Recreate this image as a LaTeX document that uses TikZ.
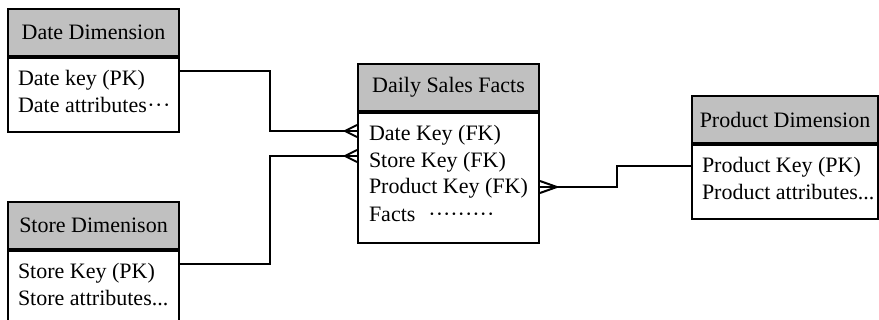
\documentclass[tikz,border=0pt]{standalone}
\usepackage{fontspec}
\setmainfont{Liberation Serif}
\usetikzlibrary{positioning}
\definecolor{hgray}{RGB}{192,192,192}

\tikzset{
  crow/.pic={\draw (0,-6) -- (-12,0) -- (0,6);}
}

\begin{document}
\begin{tikzpicture}[x=1pt, y=-1pt, line width=2pt,
    every node/.style={font=\fontsize{22}{26}\selectfont},
    head/.style={draw, fill=hgray, inner sep=0pt, minimum height=47pt, anchor=north west},
    body/.style={draw, inner sep=0pt, anchor=north west},
    row/.style={anchor=base west, inner sep=0pt}]
  \useasboundingbox (0,0) rectangle (879,320);

  % Date Dimension
  \node [head, minimum width=171pt] (dateH) at (7,8) {Date Dimension};
  \node [body, minimum width=171pt, minimum height=74pt] (dateB) at (dateH.south west) {};
  \node [row] (dateR1) at ([shift={(10,29)}]dateB.north west) {Date key (PK)};
  \node [row] (dateR2) at ([shift={(0,26.5)}]dateR1.base west) {Date attributes\kern0.5pt·\kern0.5pt·\kern0.5pt·};

  % Store Dimension
  \node [head, minimum width=171pt] (storeH) at (7,201) {Store Dimenison};
  \node [body, minimum width=171pt, minimum height=74pt] (storeB) at (storeH.south west) {};
  \node [row] (storeR1) at ([shift={(10,29)}]storeB.north west) {Store Key (PK)};
  \node [row] (storeR2) at ([shift={(0,26.5)}]storeR1.base west) {Store attributes...};

  % Daily Sales Facts
  \node [head, minimum width=181pt] (factsH) at (357,63) {Daily Sales Facts};
  \node [body, minimum width=181pt, minimum height=130pt] (factsB) at (factsH.south west) {};
  \node [row] (factsR1) at ([shift={(11,29)}]factsB.north west) {Date Key (FK)};
  \node [row] (factsR2) at ([shift={(0,26.5)}]factsR1.base west) {Store Key (FK)};
  \node [row] (factsR3) at ([shift={(0,26.5)}]factsR2.base west) {Product Key (FK)};
  \node [row] (factsR4) at ([shift={(0,27.5)}]factsR3.base west) {Facts\hspace{13pt}·········};

  % Product Dimension
  \node [head, minimum width=186pt] (prodH) at (691,95) {Product Dimension};
  \node [body, minimum width=186pt, minimum height=74pt] (prodB) at (prodH.south west) {};
  \node [row] (prodR1) at ([shift={(10,29)}]prodB.north west) {Product Key (PK)};
  \node [row] (prodR2) at ([shift={(0,26.5)}]prodR1.base west) {Product attributes...};

  % link points
  \coordinate (dateOut) at ([shift={(0,14)}]dateB.north east);
  \coordinate (storeOut) at ([shift={(0,14)}]storeB.north east);
  \coordinate (inDate) at ([shift={(0,19)}]factsB.north west);
  \coordinate (inStore) at ([shift={(0,44)}]factsB.north west);
  \coordinate (outProd) at ([shift={(0,75)}]factsB.north east);
  \coordinate (prodIn) at ([shift={(0,22)}]prodB.north west);

  \draw (dateOut) -- ++(90,0) |- (inDate);
  \draw (storeOut) -- ++(90,0) |- (inStore);
  \draw (outProd) -- ++(77,0) |- (prodIn);

  \pic at (inDate) {crow};
  \pic at (inStore) {crow};
  \pic [xscale=-1.4] at (outProd) {crow};
\end{tikzpicture}
\end{document}
